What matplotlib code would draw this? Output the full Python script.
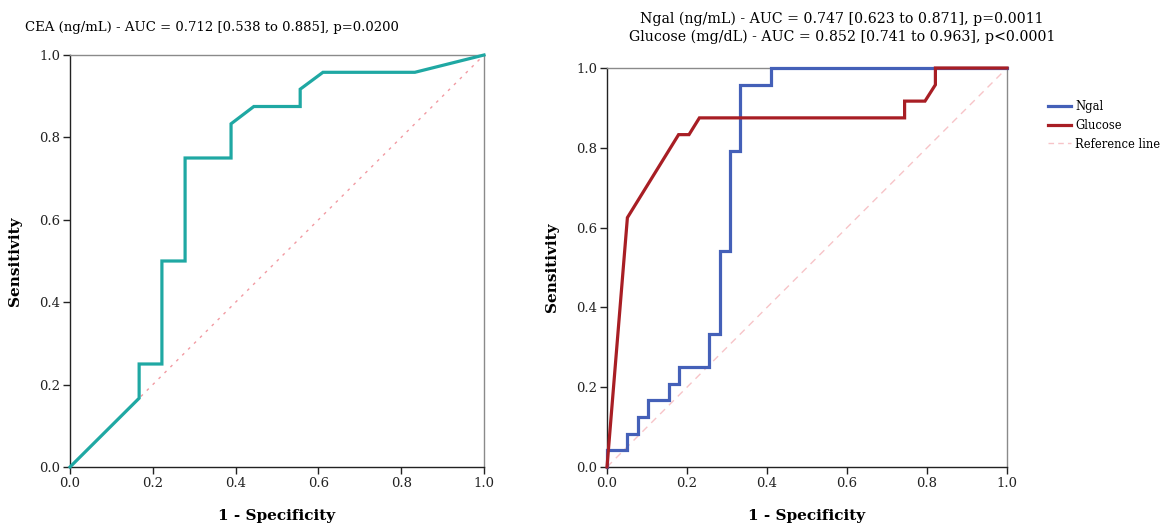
import matplotlib
matplotlib.use("Agg")
import matplotlib.pyplot as plt
from matplotlib.lines import Line2D

# ---- data ----
cea_fpr = [0.0, 0.167, 0.167, 0.222, 0.222, 0.278, 0.278, 0.389, 0.389, 0.444, 0.556, 0.556, 0.611, 0.833, 1.0]
cea_tpr = [0.0, 0.167, 0.250, 0.250, 0.500, 0.500, 0.750, 0.750, 0.833, 0.875, 0.875, 0.917, 0.958, 0.958, 1.0]

ngal_fpr = [0.0, 0.0, 0.051, 0.051, 0.077, 0.077, 0.103, 0.103, 0.154, 0.154, 0.179, 0.179,
            0.256, 0.256, 0.282, 0.282, 0.308, 0.308, 0.333, 0.333, 0.410, 0.410, 1.0]
ngal_tpr = [0.0, 0.042, 0.042, 0.083, 0.083, 0.125, 0.125, 0.167, 0.167, 0.208, 0.208, 0.250,
            0.250, 0.333, 0.333, 0.542, 0.542, 0.792, 0.792, 0.958, 0.958, 1.0, 1.0]

glu_fpr = [0.0, 0.051, 0.179, 0.205, 0.231, 0.744, 0.744, 0.795, 0.821, 0.821, 1.0]
glu_tpr = [0.0, 0.625, 0.833, 0.833, 0.875, 0.875, 0.917, 0.917, 0.958, 1.0, 1.0]

ref_line = [0.0, 1.0]
ticks = [0.0, 0.2, 0.4, 0.6, 0.8, 1.0]
tick_labels = ["0.0", "0.2", "0.4", "0.6", "0.8", "1.0"]

title_left = "CEA (ng/mL) - AUC = 0.712 [0.538 to 0.885], p=0.0200"
title_right = ("Ngal (ng/mL) - AUC = 0.747 [0.623 to 0.871], p=0.0011\n"
               "Glucose (mg/dL) - AUC = 0.852 [0.741 to 0.963], p<0.0001")
legend_labels = ["Ngal", "Glucose", "Reference line"]

# ---- styling ----
plt.rcParams['font.family'] = ['DejaVu Serif']
W, H = 1164, 527
fig = plt.figure(figsize=(W / 100, H / 100), dpi=100)

TEAL = '#1fa8a3'
BLUE = '#4460b8'
RED = '#a81e24'
PINK = '#f29aa2'
PINK2 = '#f7c4c8'


def make_ax(x0, y0, x1, y1):
    ax = fig.add_axes([x0 / W, 1 - y1 / H, (x1 - x0) / W, (y1 - y0) / H])
    ax.set_xlim(0, 1)
    ax.set_ylim(0, 1)
    ax.set_xticks(ticks)
    ax.set_xticklabels(tick_labels)
    ax.set_yticks(ticks)
    ax.set_yticklabels(tick_labels)
    ax.tick_params(direction='out', length=5, width=1, labelsize=9.5, colors='#222222', pad=2)
    for s in ['left', 'bottom']:
        ax.spines[s].set_color('#222222')
        ax.spines[s].set_linewidth(1.0)
    for s in ['top', 'right']:
        ax.spines[s].set_color('#8a8a8a')
        ax.spines[s].set_linewidth(1.0)
    ax.set_xlabel("1 - Specificity", fontsize=11, fontweight='bold', labelpad=14)
    ax.set_ylabel("Sensitivity", fontsize=11, fontweight='bold', labelpad=12)
    return ax


ax1 = make_ax(70, 55, 484, 467)
ax1.plot(ref_line, ref_line, color=PINK, lw=1.0, ls=(0, (2, 4)), zorder=2)
ax1.plot(cea_fpr, cea_tpr, color=TEAL, lw=2.3, zorder=3, clip_on=False, solid_joinstyle='miter')
fig.text(25 / W, 1 - 28 / H, title_left, fontsize=9.5, ha='left', va='center')

ax2 = make_ax(607, 68, 1007, 467)
ax2.plot(ref_line, ref_line, color=PINK2, lw=1.0, ls=(0, (5, 4)), zorder=2)
ax2.plot(ngal_fpr, ngal_tpr, color=BLUE, lw=2.3, zorder=3, clip_on=False, solid_joinstyle='miter')
ax2.plot(glu_fpr, glu_tpr, color=RED, lw=2.3, zorder=4, clip_on=False, solid_joinstyle='miter')
fig.text(842 / W, 1 - 28 / H, title_right, fontsize=10.2, ha='center', va='center', linespacing=1.3)

handles = [Line2D([], [], color=BLUE, lw=2.3),
           Line2D([], [], color=RED, lw=2.3),
           Line2D([], [], color=PINK2, lw=1.0, ls=(0, (4, 3)))]
fig.legend(handles, legend_labels, loc='upper left', bbox_to_anchor=(1048 / W, 1 - 100 / H),
           frameon=False, fontsize=8.3, handlelength=2.0, handletextpad=0.35,
           labelspacing=0.5, borderpad=0.0, borderaxespad=0)

fig.savefig("out.png", dpi=100)
